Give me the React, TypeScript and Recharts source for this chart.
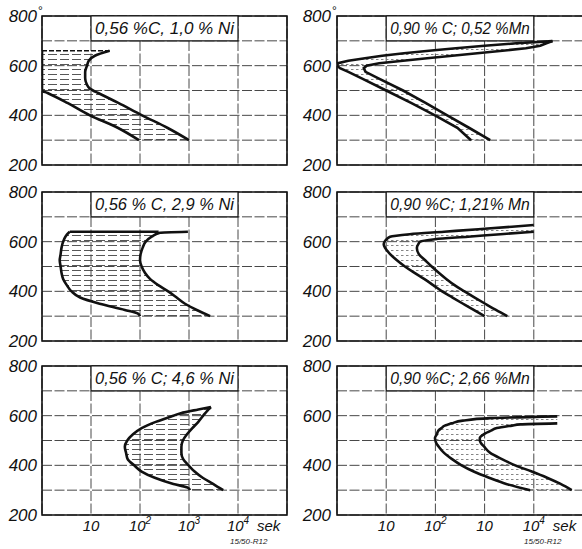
import React from 'react';
import { ComposedChart, Line, Area, XAxis, YAxis, CartesianGrid, ReferenceArea } from 'recharts';

const FONT = "'Liberation Sans', Arial, sans-serif";

// Axis ticks and labels
const tempTicks = [200, 300, 400, 500, 600, 700, 800];
const tempLabels = ['200', '', '400', '', '600', '', '800'];
const timeTicks = [1, 10, 100, 1000, 10000, 100000];
const timeBaseLeft = ['', '10', '10', '10', '10', ''];
const timeExpLeft = ['', '', '2', '3', '4', ''];
const timeBaseRight = ['', '10', '10', '10', '10', ''];
const timeExpRight = ['', '', '2', '', '4', ''];
const unitLabel = 'sek';
const figureCode = '15/50-R12';

// Panel titles
const titleL1 = '0,56 %C, 1,0 % Ni';
const titleL2 = '0,56 % C, 2,9 % Ni';
const titleL3 = '0,56 % C; 4,6 % Ni';
const titleR1 = '0,90 % C; 0,52 %Mn';
const titleR2 = '0,90 %C; 1,21% Mn';
const titleR3 = '0,90 %C; 2,66 %Mn';

// 0.56 %C, 1.0 %Ni  (temperature °C, time s)
const tempsL1 = [660, 640, 620, 600, 575, 550, 525, 510, 500, 490, 450, 400, 350, 300];
const startL1 = [1, 1, 1, 1, 1, 1, 1, 1, 1, 1.3, 3.3, 9.5, 35, 95];
const endL1 = [24, 12, 9, 8.3, 7.6, 7.6, 8.2, 9.2, 11, 14, 36, 110, 360, 1000];
const capL1 = [660, 1, 24];

// 0.56 %C, 2.9 %Ni
const tempsL2 = [640, 636, 620, 600, 575, 550, 525, 500, 475, 450, 425, 400, 375, 350, 325, 310, 300];
const startL2 = [3.7, 3.5, 3.0, 2.7, 2.5, 2.4, 2.3, 2.4, 2.5, 2.7, 3.2, 4.0, 6, 15, 49, 91, 100];
const endL2 = [950, 255, 173, 131, 113, 103, 100, 108, 126, 160, 235, 375, 560, 830, 1440, 2100, 2700];
const capL2 = [640, 3.7, 240];

// 0.56 %C, 4.6 %Ni
const tempsL3 = [635, 625, 610, 600, 575, 550, 525, 500, 475, 450, 425, 400, 375, 350, 325, 310, 300];
const startL3 = [2800, 1550, 680, 480, 210, 108, 72, 55, 49, 52, 56, 76, 108, 200, 480, 940, 1050];
const endL3 = [2800, 2500, 2150, 1950, 1550, 1170, 910, 750, 700, 700, 760, 980, 1300, 1900, 3100, 4100, 5000];

// 0.90 %C, 0.52 %Mn
const tempsR1 = [699, 690, 680, 670, 660, 650, 640, 630, 620, 610, 600, 590, 575, 550, 500, 450, 400, 350, 300];
const startR1 = [24000, 4400, 1000, 260, 74, 23, 8.3, 3.7, 1.7, 1.05, 1, 1.15, 1.7, 3.1, 10, 32, 98, 280, 530];
const endR1 = [24000, 18000, 13500, 6900, 2300, 710, 220, 68, 22, 7.2, 4.0, 3.5, 3.8, 6.8, 22, 63, 174, 480, 1300];

// 0.90 %C, 1.21 %Mn
const tempsR2 = [667, 660, 650, 640, 630, 620, 610, 600, 590, 575, 550, 525, 500, 475, 450, 425, 400, 375, 350, 325, 300];
const startR2 = [10000, 3600, 750, 150, 30, 12, 10.2, 9.3, 8.9, 9.5, 12, 16.5, 24, 37, 59, 90, 137, 223, 365, 600, 1000];
const endR2 = [null, null, null, 10000, 2100, 460, 98, 49, 45, 42, 46, 62, 84, 117, 166, 245, 390, 630, 1030, 1700, 2900];
const edgeR2 = 10000;

// 0.90 %C, 2.66 %Mn
const tempsR3 = [597, 590, 580, 569, 565, 560, 550, 540, 525, 510, 500, 490, 475, 450, 425, 400, 375, 350, 325, 300];
const startR3 = [30000, 1300, 360, 215, 185, 155, 133, 115, 107, 98, 100, 104, 117, 150, 218, 340, 600, 1230, 2750, 8500];
const endR3 = [null, null, null, 30000, 5400, 3600, 1770, 1350, 960, 800, 800, 840, 980, 1300, 2250, 4200, 9100, 18600, 35000, 59000];
const edgeR3 = 30000;

const ROW_TOPS = [16, 192, 366];

type PanelProps = {
  temps: number[];
  start: (number | null)[];
  end: (number | null)[];
  edge?: number;
  cap?: number[];
  capDashed?: boolean;
  title: string;
  col: 'L' | 'R';
  row: number;
  curve: 'monotone' | 'linear';
  hatch: string;
  degree?: boolean;
};

function Panel(p: PanelProps) {
  const rows = p.temps.map((t, i) => {
    const s = p.start[i];
    const e = p.end[i];
    return {
      temp: t,
      start: s,
      end: e,
      band: s == null ? null : [s, e == null ? (p.edge as number) : e],
    };
  });
  const isL = p.col === 'L';
  const yw = isL ? 42 : 46;
  const w = isL ? 291 : 294;
  const mr = isL ? 4 : 2;
  const bottom = p.row === 2;
  const h = bottom ? 197 : 173;
  const mb = bottom ? 4 : 10;
  const gap = isL ? 5 : 6;
  const base = isL ? timeBaseLeft : timeBaseRight;
  const exp = isL ? timeExpLeft : timeExpRight;

  const yTick = (props: any) => {
    const { x, y, payload } = props;
    const i = tempTicks.indexOf(payload.value);
    const label = tempLabels[i];
    if (!label) return <g />;
    return (
      <g>
        <text x={x - gap} y={y} dy="0.36em" textAnchor="end" fontSize={17} fontStyle="italic" fontFamily={FONT} fill="#111">
          {label}
        </text>
        {p.degree && payload.value === 800 ? (
          <text x={x - gap + 1} y={y - 1} fontSize={12} fontFamily={FONT} fill="#111">°</text>
        ) : null}
      </g>
    );
  };

  const xTick = (props: any) => {
    const { x, y, payload } = props;
    const i = timeTicks.indexOf(payload.value);
    const b = base[i];
    if (!b) return <g />;
    const e = exp[i];
    return (
      <g>
        <text x={x} y={y + 16} textAnchor="middle" fontSize={15} fontStyle="italic" fontFamily={FONT} fill="#111">
          {b}
          {e ? <tspan dy={-7} fontSize={10}>{e}</tspan> : null}
        </text>
        {i === 4 ? (
          <text x={x + 19} y={y + 16} fontSize={15} fontStyle="italic" fontFamily={FONT} fill="#111">{unitLabel}</text>
        ) : null}
      </g>
    );
  };

  const titleLabel = (lp: any) => {
    const vb = lp.viewBox || {};
    return (
      <text
        x={vb.x + vb.width / 2}
        y={vb.y + vb.height / 2}
        dy="0.36em"
        textAnchor="middle"
        fontSize={16}
        fontStyle="italic"
        fontFamily={FONT}
        fill="#111"
        textLength={vb.width - 8}
        lengthAdjust="spacingAndGlyphs"
      >
        {p.title}
      </text>
    );
  };

  return (
    <div style={{ position: 'absolute', left: isL ? 0 : 291, top: ROW_TOPS[p.row] - 14 }}>
      <ComposedChart
        layout="vertical"
        width={w}
        height={h}
        data={rows}
        margin={{ top: 14, right: mr, bottom: mb, left: 0 }}
      >
        <CartesianGrid stroke="#333" strokeDasharray="10 2.5" strokeWidth={0.9} />
        <XAxis
          type="number"
          scale="log"
          domain={[1, 100000]}
          ticks={timeTicks}
          allowDataOverflow
          interval={0}
          hide={!bottom}
          height={bottom ? 30 : 0}
          axisLine={false}
          tickLine={false}
          tickSize={0}
          tickMargin={0}
          tick={xTick}
        />
        <YAxis
          type="number"
          dataKey="temp"
          domain={[200, 800]}
          ticks={tempTicks}
          allowDataOverflow
          interval={0}
          width={yw}
          axisLine={false}
          tickLine={false}
          tickSize={0}
          tickMargin={0}
          tick={yTick}
          reversed
        />
        <ReferenceArea x1={1} x2={100000} y1={200} y2={800} fill="none" stroke="#111" strokeWidth={1.6} ifOverflow="visible" />
        <ReferenceArea x1={10} x2={10000} y1={700} y2={800} fill="#fff" fillOpacity={1} stroke="#111" strokeWidth={1.2} label={titleLabel} />
        <Area
          type={p.curve}
          dataKey="band"
          stroke="none"
          fill={`url(#${p.hatch})`}
          fillOpacity={1}
          isAnimationActive={false}
          dot={false}
          activeDot={false}
        />
        <Line type={p.curve} dataKey="start" stroke="#111" strokeWidth={2.6} dot={false} activeDot={false} isAnimationActive={false} />
        <Line type={p.curve} dataKey="end" stroke="#111" strokeWidth={2.6} dot={false} activeDot={false} isAnimationActive={false} />
        {p.cap ? (
          <Line
            data={[
              { temp: p.cap[0], cap: p.cap[1] },
              { temp: p.cap[0], cap: p.cap[2] },
            ]}
            dataKey="cap"
            type="linear"
            stroke="#111"
            strokeWidth={p.capDashed ? 1.6 : 2.6}
            strokeDasharray={p.capDashed ? '5 2' : undefined}
            dot={false}
            activeDot={false}
            isAnimationActive={false}
          />
        ) : null}
      </ComposedChart>
    </div>
  );
}

export default function App() {
  return (
    <div
      style={{
        position: 'absolute',
        left: 0,
        top: 0,
        width: 582,
        height: 549,
        overflow: 'hidden',
        background: '#fff',
      }}
    >
      <svg width={0} height={0} style={{ position: 'absolute' }}>
        <defs>
          <pattern id="hatchNi" patternUnits="userSpaceOnUse" width={12} height={5}>
            <line x1={0} y1={2.5} x2={9} y2={2.5} stroke="#444" strokeWidth={0.9} />
          </pattern>
          <pattern id="hatchMn" patternUnits="userSpaceOnUse" width={5} height={5}>
            <line x1={0} y1={2.5} x2={2.5} y2={2.5} stroke="#777" strokeWidth={0.9} />
          </pattern>
        </defs>
      </svg>
      <Panel temps={tempsL1} start={startL1} end={endL1} cap={capL1} capDashed title={titleL1} col="L" row={0} curve="monotone" hatch="hatchNi" degree />
      <Panel temps={tempsL2} start={startL2} end={endL2} cap={capL2} title={titleL2} col="L" row={1} curve="monotone" hatch="hatchNi" />
      <Panel temps={tempsL3} start={startL3} end={endL3} title={titleL3} col="L" row={2} curve="monotone" hatch="hatchNi" />
      <Panel temps={tempsR1} start={startR1} end={endR1} title={titleR1} col="R" row={0} curve="linear" hatch="hatchMn" degree />
      <Panel temps={tempsR2} start={startR2} end={endR2} edge={edgeR2} title={titleR2} col="R" row={1} curve="monotone" hatch="hatchMn" />
      <Panel temps={tempsR3} start={startR3} end={endR3} edge={edgeR3} title={titleR3} col="R" row={2} curve="monotone" hatch="hatchMn" />
      <svg width={582} height={549} style={{ position: 'absolute', left: 0, top: 0, pointerEvents: 'none' }}>
        <text x={230} y={544} fontSize={8} fontStyle="italic" fontFamily={FONT} fill="#222">{figureCode}</text>
        <text x={524} y={544} fontSize={8} fontStyle="italic" fontFamily={FONT} fill="#222">{figureCode}</text>
      </svg>
    </div>
  );
}
